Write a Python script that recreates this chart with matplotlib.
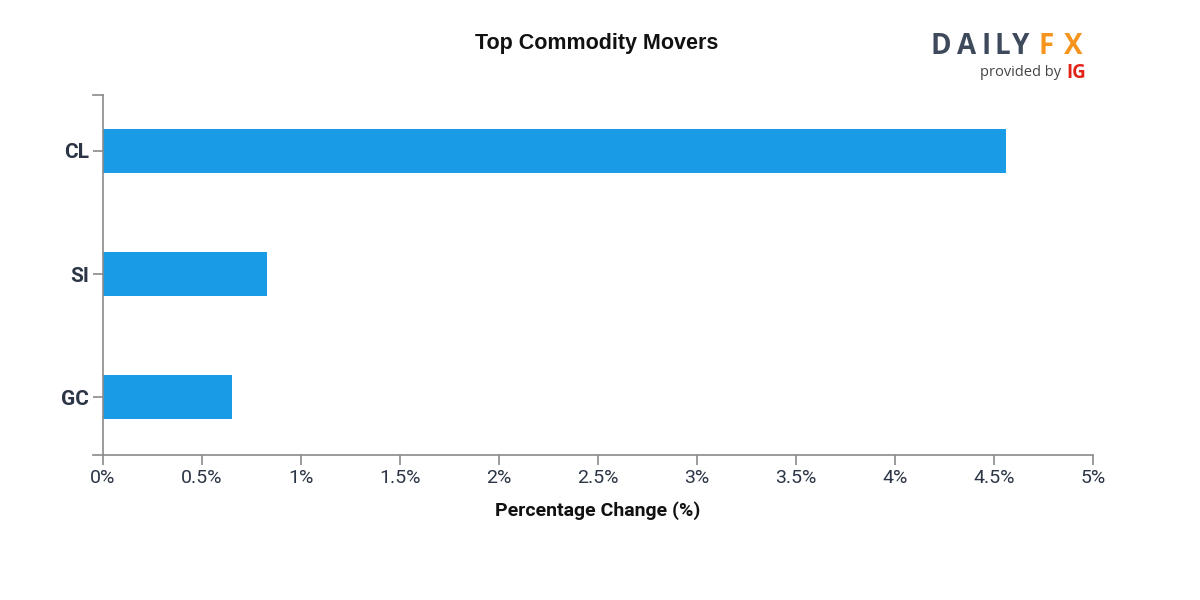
import matplotlib.pyplot as plt
from matplotlib.lines import Line2D

# Data
symbols = ["GC", "SI", "CL"]
pct_change = [0.65, 0.83, 4.56]
x_ticks = [0, 0.5, 1, 1.5, 2, 2.5, 3, 3.5, 4, 4.5, 5]
x_tick_labels = ["0%", "0.5%", "1%", "1.5%", "2%", "2.5%", "3%", "3.5%", "4%", "4.5%", "5%"]

bar_color = "#1a9be6"
text_color = "#2b3546"
axis_color = "#8a8a8a"

fig = plt.figure(figsize=(12, 6), dpi=100)
ax = fig.add_axes([103 / 1200, 145 / 600, 990 / 1200, 360 / 600])

ax.barh(range(len(symbols)), pct_change, height=0.36, color=bar_color)
ax.set_xlim(0, 5)
ax.set_ylim(-0.47, len(symbols) - 0.545)

ax.set_yticks(range(len(symbols)))
ax.set_yticklabels(symbols, fontsize=15, fontweight="bold", family="Roboto", color=text_color)
ax.set_xticks(x_ticks)
ax.set_xticklabels(x_tick_labels, fontsize=14, family="Roboto", color=text_color)
ax.tick_params(axis="both", colors=axis_color, length=7, width=1.2)
ax.tick_params(axis="x", labelcolor=text_color, pad=3)
ax.tick_params(axis="y", labelcolor=text_color, pad=3)

for side in ["top", "right"]:
    ax.spines[side].set_visible(False)
for side in ["left", "bottom"]:
    ax.spines[side].set_color(axis_color)
    ax.spines[side].set_linewidth(1.2)

# outer ticks of the axis domain
ax.add_line(Line2D([-0.0101, 0], [1, 1], transform=ax.transAxes, color=axis_color, lw=1.2, clip_on=False))
ax.add_line(Line2D([-0.0101, 0], [0, 0], transform=ax.transAxes, color=axis_color, lw=1.2, clip_on=False))

ax.set_xlabel("Percentage Change (%)", fontsize=14, fontweight="bold", family="Roboto",
              color="#111111", labelpad=10)

fig.text(597 / 1200, 1 - 44 / 600, "Top Commodity Movers", ha="center", va="center",
         fontsize=15.5, fontweight="bold", family="Liberation Sans", color="#111111")

# logo
logo_letters = ["D", "A", "I", "L", "Y", "F", "X"]
logo_x = [941, 967, 986, 1002, 1021, 1046, 1073]
for ch, lx in zip(logo_letters, logo_x):
    col = "#f7941d" if ch in "FX" else "#3e4a5c"
    fig.text(lx / 1200, 1 - 46 / 600, ch, ha="center", va="center",
             fontsize=20, fontweight="bold", family="Open Sans", color=col)
fig.text(1061 / 1200, 1 - 73 / 600, "provided by", ha="right", va="center",
         fontsize=10.5, family="Open Sans", color="#444444")
fig.text(1066 / 1200, 1 - 73 / 600, "IG", ha="left", va="center",
         fontsize=13.5, fontweight="bold", family="Open Sans", color="#e2231a")

fig.savefig("out.png", dpi=100, facecolor="white")
